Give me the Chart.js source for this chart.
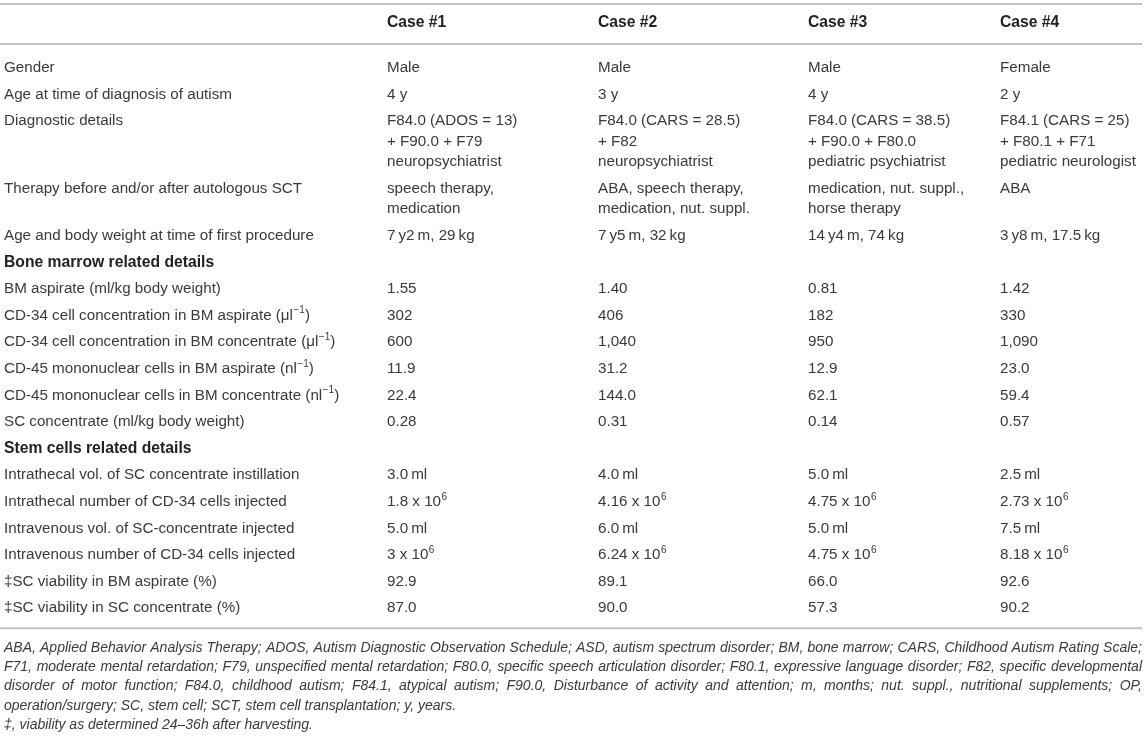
<!DOCTYPE html>
<html>
<head>
<meta charset="utf-8">
<title>Case details</title>
<script src="https://cdn.jsdelivr.net/npm/chart.js@4.4.1/dist/chart.umd.min.js"></script>
<style>
  html, body { margin: 0; padding: 0; background: #fff; }
  #wrap { width: 1146px; height: 738px; }
</style>
</head>
<body>
<div id="wrap"><canvas id="tabela" width="1146" height="738"></canvas></div>
<script>
// ---- data ----
const cases = ['Case #1', 'Case #2', 'Case #3', 'Case #4'];

const gender = ['Male', 'Male', 'Male', 'Female'];
const ageDiagnosis = [4, 3, 4, 2];
const diagnostic = [
  ['F84.0 (ADOS = 13)', '+ F90.0 + F79', 'neuropsychiatrist'],
  ['F84.0 (CARS = 28.5)', '+ F82', 'neuropsychiatrist'],
  ['F84.0 (CARS = 38.5)', '+ F90.0 + F80.0', 'pediatric psychiatrist'],
  ['F84.1 (CARS = 25)', '+ F80.1 + F71', 'pediatric neurologist']
];
const therapy = [
  ['speech therapy,', 'medication'],
  ['ABA, speech therapy,', 'medication, nut. suppl.'],
  ['medication, nut. suppl.,', 'horse therapy'],
  ['ABA']
];
const ageYears = [7, 7, 14, 3];
const ageMonths = [2, 5, 4, 8];
const bodyWeight = [29, 32, 74, 17.5];

const bmAspirate = [1.55, 1.40, 0.81, 1.42];
const cd34Aspirate = [302, 406, 182, 330];
const cd34Concentrate = [600, 1040, 950, 1090];
const cd45Aspirate = [11.9, 31.2, 12.9, 23.0];
const cd45Concentrate = [22.4, 144.0, 62.1, 59.4];
const scConcentrate = [0.28, 0.31, 0.14, 0.57];

const itVolume = [3.0, 4.0, 5.0, 2.5];
const itCells = ['1.8', '4.16', '4.75', '2.73'];   // x 10^6
const ivVolume = [5.0, 6.0, 5.0, 7.5];
const ivCells = ['3', '6.24', '4.75', '8.18'];     // x 10^6
const viabilityAspirate = [92.9, 89.1, 66.0, 92.6];
const viabilityConcentrate = [87.0, 90.0, 57.3, 90.2];

const footnotes = [
  'ABA, Applied Behavior Analysis Therapy; ADOS, Autism Diagnostic Observation Schedule; ASD, autism spectrum disorder; BM, bone marrow; CARS, Childhood Autism Rating Scale;',
  'F71, moderate mental retardation; F79, unspecified mental retardation; F80.0, specific speech articulation disorder; F80.1, expressive language disorder; F82, specific developmental',
  'disorder of motor function; F84.0, childhood autism; F84.1, atypical autism; F90.0, Disturbance of activity and attention; m, months; nut. suppl., nutritional supplements; OP,',
  'operation/surgery; SC, stem cell; SCT, stem cell transplantation; y, years.',
  '\u2021, viability as determined 24\u201336h after harvesting.'
];

// ---- formatting helpers ----
const TS = '\u2009';
const fix = (d) => (v) => v.toFixed(d);
const thousands = (v) => v.toLocaleString('en-US');
const ml = (v) => v.toFixed(1) + TS + 'ml';
const e6 = (v) => v + ' x 10^{6}';

const rows = [
  { label: 'Gender', cells: gender },
  { label: 'Age at time of diagnosis of autism', cells: ageDiagnosis.map(v => v + ' y') },
  { label: 'Diagnostic details', cells: diagnostic },
  { label: 'Therapy before and/or after autologous SCT', cells: therapy },
  { label: 'Age and body weight at time of first procedure',
    cells: ageYears.map((y, i) => y + TS + 'y' + ageMonths[i] + TS + 'm, ' + bodyWeight[i] + TS + 'kg') },
  { label: 'Bone marrow related details', section: true },
  { label: 'BM aspirate (ml/kg body weight)', cells: bmAspirate.map(fix(2)) },
  { label: 'CD-34 cell concentration in BM aspirate (\u03bcl^{\u22121})', cells: cd34Aspirate.map(thousands) },
  { label: 'CD-34 cell concentration in BM concentrate (\u03bcl^{\u22121})', cells: cd34Concentrate.map(thousands) },
  { label: 'CD-45 mononuclear cells in BM aspirate (nl^{\u22121})', cells: cd45Aspirate.map(fix(1)) },
  { label: 'CD-45 mononuclear cells in BM concentrate (nl^{\u22121})', cells: cd45Concentrate.map(fix(1)) },
  { label: 'SC concentrate (ml/kg body weight)', cells: scConcentrate.map(fix(2)) },
  { label: 'Stem cells related details', section: true },
  { label: 'Intrathecal vol. of SC concentrate instillation', cells: itVolume.map(ml) },
  { label: 'Intrathecal number of CD-34 cells injected', cells: itCells.map(e6) },
  { label: 'Intravenous vol. of SC-concentrate injected', cells: ivVolume.map(ml) },
  { label: 'Intravenous number of CD-34 cells injected', cells: ivCells.map(e6) },
  { label: '\u2021SC viability in BM aspirate (%)', cells: viabilityAspirate.map(fix(1)) },
  { label: '\u2021SC viability in SC concentrate (%)', cells: viabilityConcentrate.map(fix(1)) }
];

// ---- layout (px) ----
const W = 1146, H = 738;
const labelX = 4;
const colX = [387, 598, 808, 1000];
const headY = 23;
const firstRowY = 68;
const rowPitch = 26.6;
const lineH = 20.5;
const ruleEnd = 1142;
const noteLineH = 19.3;
const FONT = '"Liberation Sans", Arial, Helvetica, sans-serif';

// build text points and rule positions from the rows
const textPoints = [];
cases.forEach((c, i) => textPoints.push({ x: colX[i], y: headY, text: c, bold: true }));

let y = firstRowY;
rows.forEach(r => {
  textPoints.push({ x: labelX, y: y, text: r.label, bold: !!r.section });
  let lines = 1;
  (r.cells || []).forEach((cell, i) => {
    const parts = Array.isArray(cell) ? cell : [cell];
    parts.forEach((p, k) => textPoints.push({ x: colX[i], y: y + k * lineH, text: String(p) }));
    lines = Math.max(lines, parts.length);
  });
  y += rowPitch + (lines - 1) * lineH;
});
const lastRowY = y - rowPitch;
const bottomRule = lastRowY + 20;

const notePoints = footnotes.map((t, i) => ({
  x: labelX, y: bottomRule + 19.5 + i * noteLineH, text: t, justify: i < 3
}));

const rule = (yy) => ({
  type: 'line',
  data: [{ x: 0, y: yy }, { x: ruleEnd, y: yy }],
  borderColor: '#c2c2c2',
  borderWidth: 2,
  pointRadius: 0,
  clip: false
});

// ---- text drawing plugin ----
function drawRich(ctx, text, x, y, bold) {
  const parts = text.split(/(\^\{[^}]*\})/);
  let cx = x;
  parts.forEach(p => {
    if (!p) return;
    if (p.startsWith('^{')) {
      const s = p.slice(2, -1);
      ctx.font = '10px ' + FONT;
      ctx.fillText(s, cx + 0.5, y - 5);
      cx += ctx.measureText(s).width + 0.5;
    } else {
      ctx.font = bold ? 'bold 15.7px ' + FONT : '15.2px ' + FONT;
      ctx.fillText(p, cx, y);
      cx += ctx.measureText(p).width;
    }
  });
}

function drawJustified(ctx, text, x, y, width) {
  const words = text.split(' ');
  const total = words.reduce((s, w) => s + ctx.measureText(w).width, 0);
  const gap = (width - total) / (words.length - 1);
  let cx = x;
  words.forEach(w => {
    ctx.fillText(w, cx, y);
    cx += ctx.measureText(w).width + gap;
  });
}

const tableText = {
  id: 'tableText',
  afterDatasetsDraw(chart) {
    const ctx = chart.ctx;
    ctx.save();
    ctx.textBaseline = 'middle';
    ctx.textAlign = 'left';
    chart.data.datasets.forEach((ds, i) => {
      if (!ds.textKind) return;
      const meta = chart.getDatasetMeta(i);
      meta.data.forEach((pt, j) => {
        const raw = ds.data[j];
        if (ds.textKind === 'cell') {
          ctx.fillStyle = raw.bold ? '#222' : '#3a3a3a';
          drawRich(ctx, raw.text, pt.x, pt.y, raw.bold);
        } else {
          ctx.fillStyle = '#3a3a3a';
          ctx.font = 'italic 14px ' + FONT;
          if (raw.justify) {
            drawJustified(ctx, raw.text, pt.x, pt.y, ruleEnd - pt.x);
          } else {
            ctx.fillText(raw.text, pt.x, pt.y);
          }
        }
      });
    });
    ctx.restore();
  }
};

const config = {
  type: 'scatter',
  data: {
    datasets: [
      rule(4),
      rule(44),
      rule(bottomRule),
      { type: 'scatter', textKind: 'cell', data: textPoints, pointRadius: 0, clip: false },
      { type: 'scatter', textKind: 'note', data: notePoints, pointRadius: 0, clip: false }
    ]
  },
  options: {
    responsive: false,
    animation: false,
    layout: { padding: 0 },
    events: [],
    scales: {
      x: { type: 'linear', min: 0, max: W, display: false },
      y: { type: 'linear', min: 0, max: H, reverse: true, display: false }
    },
    plugins: {
      legend: { display: false },
      tooltip: { enabled: false }
    }
  },
  plugins: [tableText]
};

const myChart = new Chart(document.getElementById('tabela'), config);
</script>
</body>
</html>
